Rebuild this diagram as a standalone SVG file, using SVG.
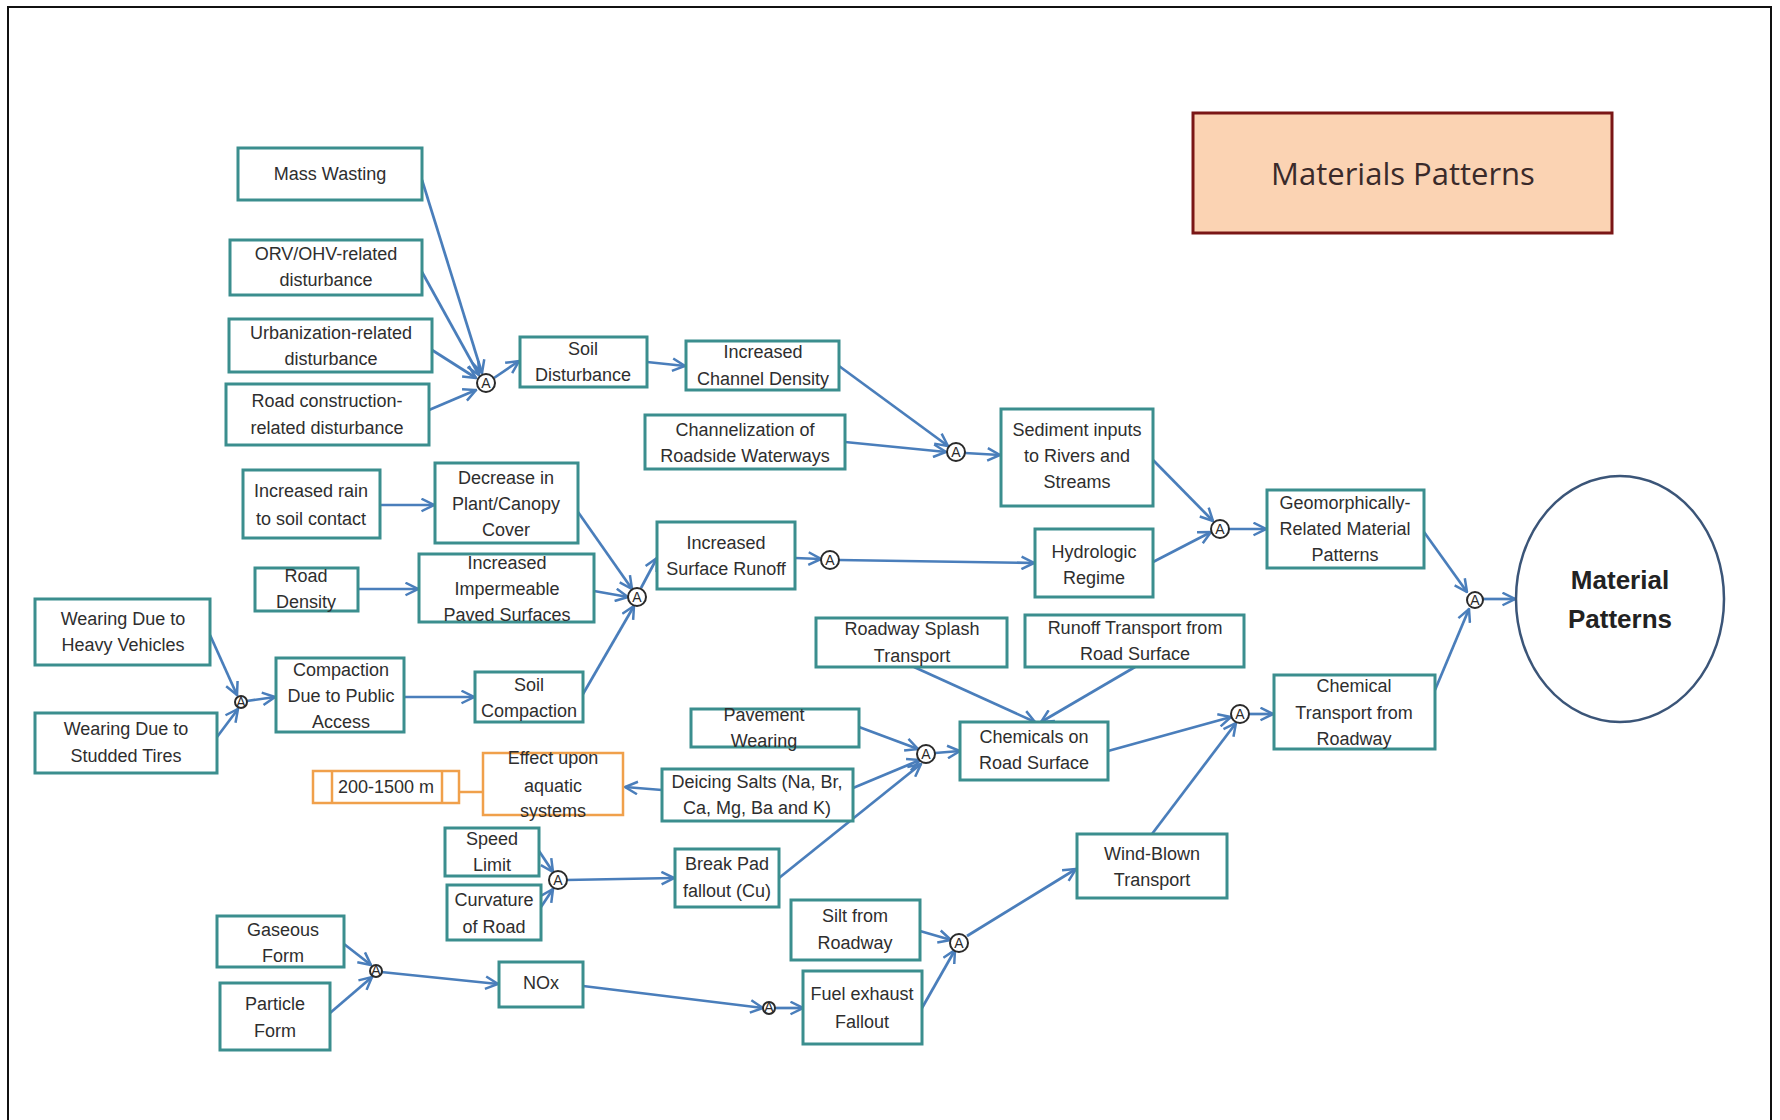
<svg xmlns="http://www.w3.org/2000/svg" width="1780" height="1120" viewBox="0 0 1780 1120">
<defs>
<marker id="arr" viewBox="0 0 12 12" refX="11" refY="6" markerWidth="15" markerHeight="15" markerUnits="userSpaceOnUse" orient="auto">
<path d="M1,1 L11,6 L1,11" fill="none" stroke="#4A7EBB" stroke-width="2"/>
</marker>
<style>
.b{fill:#fff;stroke:#3B8E8E;stroke-width:3}
.o{fill:#fff;stroke:#F0A04B;stroke-width:2.5}
.t{font-family:"Liberation Sans",Arial,sans-serif;font-size:18px;fill:#2e2e2e;text-anchor:middle}
.c{stroke:#4A7EBB;stroke-width:2.7;fill:none;marker-end:url(#arr)}
.j{fill:#fff;stroke:#2a2a2a;stroke-width:2}
.ja{font-family:"Liberation Sans",Arial,sans-serif;font-size:14px;fill:#2a2a2a;text-anchor:middle}
</style>
</defs>
<rect width="1780" height="1120" fill="#fff"/>
<rect x="8" y="7" width="1763" height="1130" fill="none" stroke="#111" stroke-width="2"/>

<g id="connectors">
<line class="c" x1="422" y1="180" x2="482" y2="373"/>
<line class="c" x1="422" y1="272" x2="479" y2="375"/>
<line class="c" x1="432" y1="350" x2="476" y2="378"/>
<line class="c" x1="429" y1="410" x2="476" y2="390"/>
<line class="c" x1="494" y1="378" x2="519" y2="361"/>
<line class="c" x1="647" y1="362" x2="685" y2="366"/>
<line class="c" x1="839" y1="366" x2="948" y2="446"/>
<line class="c" x1="845" y1="442" x2="946" y2="452"/>
<line class="c" x1="965" y1="453" x2="1000" y2="455"/>
<line class="c" x1="1153" y1="460" x2="1213" y2="521"/>
<line class="c" x1="1153" y1="562" x2="1211" y2="532"/>
<line class="c" x1="1229" y1="529" x2="1266" y2="529"/>
<line class="c" x1="1424" y1="532" x2="1467" y2="592"/>
<line class="c" x1="1435" y1="690" x2="1469" y2="609"/>
<line class="c" x1="1483" y1="599" x2="1515" y2="599"/>
<line class="c" x1="380" y1="505" x2="434" y2="505"/>
<line class="c" x1="578" y1="512" x2="632" y2="589"/>
<line class="c" x1="358" y1="589" x2="418" y2="589"/>
<line class="c" x1="594" y1="591" x2="628" y2="597"/>
<line class="c" x1="583" y1="694" x2="634" y2="606"/>
<line class="c" x1="641" y1="588" x2="657" y2="558"/>
<line class="c" x1="795" y1="558" x2="821" y2="559"/>
<line class="c" x1="839" y1="560" x2="1034" y2="563"/>
<line class="c" x1="210" y1="635" x2="237" y2="695"/>
<line class="c" x1="217" y1="737" x2="238" y2="709"/>
<line class="c" x1="247" y1="701" x2="275" y2="697"/>
<line class="c" x1="404" y1="697" x2="474" y2="697"/>
<line class="c" x1="914" y1="667" x2="1035" y2="722"/>
<line class="c" x1="1135" y1="667" x2="1041" y2="722"/>
<line class="c" x1="859" y1="727" x2="918" y2="749"/>
<line class="c" x1="853" y1="788" x2="920" y2="760"/>
<line class="c" x1="779" y1="878" x2="921" y2="764"/>
<line class="c" x1="935" y1="753" x2="960" y2="751"/>
<line class="c" x1="662" y1="790" x2="625" y2="787"/>
<line x1="459" y1="792" x2="483" y2="792" stroke="#F0A04B" stroke-width="2.5"/>
<line class="c" x1="1108" y1="751" x2="1231" y2="717"/>
<line class="c" x1="1152" y1="834" x2="1236" y2="723"/>
<line class="c" x1="1249" y1="714" x2="1273" y2="714"/>
<line class="c" x1="539" y1="851" x2="553" y2="872"/>
<line class="c" x1="541" y1="907" x2="553" y2="889"/>
<line class="c" x1="566" y1="880" x2="674" y2="878"/>
<line class="c" x1="920" y1="931" x2="951" y2="940"/>
<line class="c" x1="922" y1="1008" x2="955" y2="950"/>
<line class="c" x1="967" y1="936" x2="1076" y2="869"/>
<line class="c" x1="344" y1="944" x2="371" y2="965"/>
<line class="c" x1="330" y1="1013" x2="372" y2="977"/>
<line class="c" x1="381" y1="972" x2="498" y2="984"/>
<line class="c" x1="583" y1="986" x2="763" y2="1008"/>
<line class="c" x1="775" y1="1008" x2="803" y2="1008"/>
</g>

<g id="title">
<rect x="1193" y="113" width="419" height="120" fill="#FBD3B3" stroke="#7A1616" stroke-width="3"/>
<text x="1403" y="185" font-family="'Open Sans','Liberation Sans',sans-serif" font-size="31" fill="#3a2a2a" text-anchor="middle">Materials Patterns</text>
</g>

<g id="material-patterns">
<ellipse cx="1620" cy="599" rx="104" ry="123" fill="#fff" stroke="#3B5578" stroke-width="2.5"/>
<text x="1620" y="589" font-family="'Liberation Sans',Arial,sans-serif" font-size="26" font-weight="bold" fill="#222" text-anchor="middle">Material</text>
<text x="1620" y="628" font-family="'Liberation Sans',Arial,sans-serif" font-size="26" font-weight="bold" fill="#222" text-anchor="middle">Patterns</text>
</g>

<g id="n-mass-wasting"><rect class="b" x="238" y="148" width="184" height="52"/><text class="t" x="330" y="180">Mass Wasting</text></g>
<g id="n-orv"><rect class="b" x="230" y="240" width="192" height="55"/><text class="t" x="326" y="260">ORV/OHV-related</text><text class="t" x="326" y="286">disturbance</text></g>
<g id="n-urban"><rect class="b" x="229" y="319" width="203" height="53"/><text class="t" x="331" y="339">Urbanization-related</text><text class="t" x="331" y="365">disturbance</text></g>
<g id="n-roadcon"><rect class="b" x="226" y="384" width="203" height="61"/><text class="t" x="327" y="407">Road construction-</text><text class="t" x="327" y="434">related disturbance</text></g>
<g id="n-soil-dist"><rect class="b" x="520" y="337" width="127" height="50"/><text class="t" x="583" y="355">Soil</text><text class="t" x="583" y="381">Disturbance</text></g>
<g id="n-channel-density"><rect class="b" x="686" y="341" width="153" height="49"/><text class="t" x="763" y="358">Increased</text><text class="t" x="763" y="385">Channel Density</text></g>
<g id="n-channelization"><rect class="b" x="645" y="415" width="200" height="54"/><text class="t" x="745" y="436">Channelization of</text><text class="t" x="745" y="462">Roadside Waterways</text></g>
<g id="n-sediment"><rect class="b" x="1001" y="409" width="152" height="97"/><text class="t" x="1077" y="436">Sediment inputs</text><text class="t" x="1077" y="462">to Rivers and</text><text class="t" x="1077" y="488">Streams</text></g>
<g id="n-rain"><rect class="b" x="243" y="470" width="137" height="68"/><text class="t" x="311" y="497">Increased rain</text><text class="t" x="311" y="525">to soil contact</text></g>
<g id="n-canopy"><rect class="b" x="435" y="463" width="143" height="80"/><text class="t" x="506" y="484">Decrease in</text><text class="t" x="506" y="510">Plant/Canopy</text><text class="t" x="506" y="536">Cover</text></g>
<g id="n-road-density"><rect class="b" x="255" y="568" width="103" height="43"/><text class="t" x="306" y="582">Road</text><text class="t" x="306" y="608">Density</text></g>
<g id="n-impermeable"><rect class="b" x="419" y="554" width="175" height="68"/><text class="t" x="507" y="569">Increased</text><text class="t" x="507" y="595">Impermeable</text><text class="t" x="507" y="621">Paved Surfaces</text></g>
<g id="n-runoff"><rect class="b" x="657" y="522" width="138" height="67"/><text class="t" x="726" y="549">Increased</text><text class="t" x="726" y="575">Surface Runoff</text></g>
<g id="n-hydrologic"><rect class="b" x="1035" y="529" width="118" height="68"/><text class="t" x="1094" y="558">Hydrologic</text><text class="t" x="1094" y="584">Regime</text></g>
<g id="n-geomorph"><rect class="b" x="1267" y="490" width="157" height="78"/><text class="t" x="1345" y="509">Geomorphically-</text><text class="t" x="1345" y="535">Related Material</text><text class="t" x="1345" y="561">Patterns</text></g>
<g id="n-heavy"><rect class="b" x="35" y="599" width="175" height="66"/><text class="t" x="123" y="625">Wearing Due to</text><text class="t" x="123" y="651">Heavy Vehicles</text></g>
<g id="n-studded"><rect class="b" x="35" y="713" width="182" height="60"/><text class="t" x="126" y="735">Wearing Due to</text><text class="t" x="126" y="762">Studded Tires</text></g>
<g id="n-compaction-public"><rect class="b" x="276" y="658" width="128" height="74"/><text class="t" x="341" y="676">Compaction</text><text class="t" x="341" y="702">Due to Public</text><text class="t" x="341" y="728">Access</text></g>
<g id="n-soil-compaction"><rect class="b" x="475" y="672" width="108" height="50"/><text class="t" x="529" y="691">Soil</text><text class="t" x="529" y="717">Compaction</text></g>
<g id="n-splash"><rect class="b" x="816" y="618" width="191" height="49"/><text class="t" x="912" y="635">Roadway Splash</text><text class="t" x="912" y="662">Transport</text></g>
<g id="n-runoff-transport"><rect class="b" x="1025" y="615" width="219" height="52"/><text class="t" x="1135" y="634">Runoff Transport from</text><text class="t" x="1135" y="660">Road Surface</text></g>
<g id="n-pavement"><rect class="b" x="691" y="709" width="168" height="38"/><text class="t" x="764" y="721">Pavement</text><text class="t" x="764" y="747">Wearing</text></g>
<g id="n-chemicals"><rect class="b" x="960" y="722" width="148" height="58"/><text class="t" x="1034" y="743">Chemicals on</text><text class="t" x="1034" y="769">Road Surface</text></g>
<g id="n-chem-transport"><rect class="b" x="1274" y="675" width="161" height="74"/><text class="t" x="1354" y="692">Chemical</text><text class="t" x="1354" y="719">Transport from</text><text class="t" x="1354" y="745">Roadway</text></g>
<g id="n-distance"><rect class="o" x="313" y="771" width="146" height="32"/><line x1="332" y1="771" x2="332" y2="803" stroke="#F0A04B" stroke-width="2.5"/><line x1="442" y1="771" x2="442" y2="803" stroke="#F0A04B" stroke-width="2.5"/><text class="t" x="386" y="793">200-1500 m</text></g>
<g id="n-aquatic"><rect class="o" x="483" y="753" width="140" height="62"/><text class="t" x="553" y="764">Effect upon</text><text class="t" x="553" y="792">aquatic</text><text class="t" x="553" y="817">systems</text></g>
<g id="n-deicing"><rect class="b" x="662" y="769" width="191" height="52"/><text class="t" x="757" y="788">Deicing Salts (Na, Br,</text><text class="t" x="757" y="814">Ca, Mg, Ba and K)</text></g>
<g id="n-speed"><rect class="b" x="445" y="828" width="94" height="48"/><text class="t" x="492" y="845">Speed</text><text class="t" x="492" y="871">Limit</text></g>
<g id="n-curvature"><rect class="b" x="447" y="885" width="94" height="55"/><text class="t" x="494" y="906">Curvature</text><text class="t" x="494" y="933">of Road</text></g>
<g id="n-breakpad"><rect class="b" x="675" y="849" width="104" height="58"/><text class="t" x="727" y="870">Break Pad</text><text class="t" x="727" y="897">fallout (Cu)</text></g>
<g id="n-wind"><rect class="b" x="1077" y="834" width="150" height="64"/><text class="t" x="1152" y="860">Wind-Blown</text><text class="t" x="1152" y="886">Transport</text></g>
<g id="n-silt"><rect class="b" x="791" y="900" width="129" height="60"/><text class="t" x="855" y="922">Silt from</text><text class="t" x="855" y="949">Roadway</text></g>
<g id="n-gaseous"><rect class="b" x="217" y="916" width="127" height="51"/><text class="t" x="283" y="936">Gaseous</text><text class="t" x="283" y="962">Form</text></g>
<g id="n-particle"><rect class="b" x="220" y="983" width="110" height="67"/><text class="t" x="275" y="1010">Particle</text><text class="t" x="275" y="1037">Form</text></g>
<g id="n-nox"><rect class="b" x="499" y="962" width="84" height="45"/><text class="t" x="541" y="989">NOx</text></g>
<g id="n-fuel"><rect class="b" x="803" y="971" width="119" height="73"/><text class="t" x="862" y="1000">Fuel exhaust</text><text class="t" x="862" y="1028">Fallout</text></g>

<g id="j1"><circle class="j" cx="486" cy="383" r="9"/><text class="ja" x="486" y="388">A</text></g>
<g id="j2"><circle class="j" cx="956" cy="452" r="9"/><text class="ja" x="956" y="457">A</text></g>
<g id="j3"><circle class="j" cx="637" cy="597" r="9"/><text class="ja" x="637" y="602">A</text></g>
<g id="j4"><circle class="j" cx="830" cy="560" r="9"/><text class="ja" x="830" y="565">A</text></g>
<g id="j5"><circle class="j" cx="1220" cy="529" r="9"/><text class="ja" x="1220" y="534">A</text></g>
<g id="j6"><circle class="j" cx="1475" cy="600" r="8"/><text class="ja" x="1475" y="605">A</text></g>
<g id="j7"><circle class="j" cx="241" cy="702" r="6"/><text class="ja" x="241" y="707" font-size="11">A</text></g>
<g id="j8"><circle class="j" cx="926" cy="754" r="9"/><text class="ja" x="926" y="759">A</text></g>
<g id="j9"><circle class="j" cx="1240" cy="714" r="9"/><text class="ja" x="1240" y="719">A</text></g>
<g id="j10"><circle class="j" cx="558" cy="880" r="9"/><text class="ja" x="558" y="885">A</text></g>
<g id="j11"><circle class="j" cx="959" cy="943" r="9"/><text class="ja" x="959" y="948">A</text></g>
<g id="j12"><circle class="j" cx="376" cy="971" r="6"/><text class="ja" x="376" y="975" font-size="10">A</text></g>
<g id="j13"><circle class="j" cx="769" cy="1008" r="6"/><text class="ja" x="769" y="1012" font-size="10">A</text></g>
</svg>
